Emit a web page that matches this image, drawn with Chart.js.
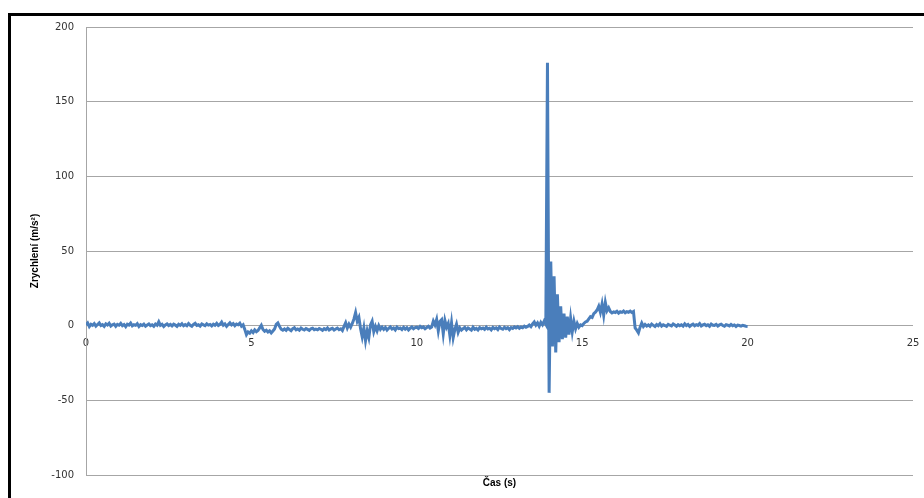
<!DOCTYPE html>
<html>
<head>
<meta charset="utf-8">
<script src="https://cdn.jsdelivr.net/npm/chart.js@4"></script>
<style>
  body { margin: 0; background: #fff; overflow: hidden; }
  #wrap { position: relative; width: 924px; height: 498px; }
  #frame { position: absolute; left: 8px; top: 13px; width: 1000px; height: 1000px;
           border: 3px solid #000; pointer-events: none; }
</style>
</head>
<body>
<div id="wrap">
  <canvas id="chart" width="924" height="498"></canvas>
  <div id="frame"></div>
</div>
<script>
// sampling step of the recorded signal (s)
const sampleStep = 0.05;

// acceleration values, one row per second (20 samples each), last one at 20.00 s
const accel = [
  0.5, 1.8, -0.6, 0.9, 0.2, 1.4, -0.3, 0.8, 1.9, 0.1, 0.7, -0.5, 1.2, 0.4, 1.6, -0.2, 0.6, 1.1, -0.4, 0.9,
  0.3, 1.5, 0.0, 0.8, -0.7, 1.0, 0.4, 1.7, -0.1, 0.6, 0.2, 1.3, -0.5, 0.7, 0.1, 1.0, -0.3, 0.5, 1.2, 0.0,
  0.6, -0.4, 1.1, 0.3, 2.6, 0.2, 0.9, -0.6, 0.5, 1.2, 0.1, 0.8, -0.2, 1.0, 0.4, -0.5, 0.9, 0.2, 1.3, -0.1,
  0.7, 0.0, 1.4, 0.3, -0.4, 0.9, 1.6, 0.2, 0.6, -0.3, 1.1, 0.5, 0.0, 1.3, 0.4, 0.8, -0.2, 1.0, 0.3, 1.5,
  0.1, 0.9, 2.4, 0.3, 1.2, -0.4, 0.8, 1.9, 0.5, 1.4, 0.0, 1.1, 0.6, 1.7, -0.3, 0.6, -2.5, -6.0, -4.2, -5.0,
  -3.5, -4.6, -2.8, -4.0, -3.2, -1.5, 0.2, -2.6, -3.8, -3.0, -4.2, -3.4, -4.8, -3.6, -2.2, 0.8, 1.8, -0.5, -2.4, -3.0,
  -2.2, -3.1, -1.8, -2.6, -3.4, -2.0, -1.4, -2.8, -2.2, -3.0, -1.6, -2.4, -2.9, -1.9, -2.5, -3.2, -2.1, -1.7, -2.7, -2.3,
  -2.8, -1.9, -2.4, -3.1, -2.0, -2.6, -1.5, -2.9, -2.2, -1.8, -3.0, -2.3, -1.6, -2.7, -2.1, -3.3, -0.5, 2.0, -1.5, 1.0,
  -1.0, 1.5, 4.5, 8.8, 3.0, 5.5, -2.0, -7.5, -1.5, -10.0, -3.5, -8.0, 0.5, 3.0, -4.0, -0.5, -3.5, 0.0, -2.5, -1.0,
  -2.5, -1.2, -3.0, -1.8, -0.8, -2.2, -1.5, -2.8, -1.0, -2.0, -1.6, -2.6, -1.1, -2.3, -1.4, -2.9, -1.7, -0.9, -2.1, -1.3,
  -1.0, -1.8, -0.5, -1.4, -0.8, -2.0, -1.2, -0.4, -1.6, -0.9, 3.0, 0.5, 4.2, -3.5, 2.8, 4.0, -5.5, 3.5, -1.0, 1.5,
  -6.5, 2.0, -8.0, -2.5, 1.0, -4.5, -1.5, -3.0, -2.0, -1.2, -2.8, -1.5, -2.2, -3.0, -1.0, -2.4, -1.8, -2.9, -1.3, -2.1,
  -1.6, -2.5, -1.0, -2.2, -1.7, -2.8, -1.2, -2.0, -1.5, -2.6, -0.9, -1.9, -2.4, -1.1, -2.0, -1.4, -2.7, -1.3, -1.8, -0.8,
  -1.5, -0.7, -1.8, -0.9, -1.4, -0.3, -1.1, -0.5, 0.4, -0.6, 1.2, 2.5, 0.3, 1.8, -0.4, 2.2, 0.6, 3.0, 1.0, 176,
  -45, 43, -14, 33, -18, 21, -11, 13, -9, 8, -8, 6, -6, 5, -4, 3, -2, 1.5, -1.0, 0.5,
  0.0, 1.5, 2.5, 3.0, 4.5, 6.0, 5.5, 8.0, 9.0, 10.5, 13.0, 9.0, 14.5, 7.0, 15.5, 10.0, 12.0, 9.5, 8.5, 9.2,
  8.8, 9.6, 8.4, 9.3, 8.9, 9.8, 8.6, 9.4, 9.0, 9.7, 8.8, 9.5, -1.5, -3.0, -4.8, -1.0, 1.8, -0.5, 0.8, -0.3,
  0.5, -0.4, 1.0, 0.2, -0.6, 0.8, 0.0, 1.3, -0.3, 0.6, 0.1, -0.5, 0.9, 0.3, -0.2, 1.1, 0.4, -0.4, 0.7, 0.0,
  0.6, -0.3, 1.2, 0.1, 0.8, -0.5, 0.4, 1.0, -0.1, 0.7, 0.2, 1.4, -0.2, 0.5, 0.9, 0.0, 0.6, -0.4, 1.1, 0.3,
  0.2, 0.9, -0.3, 0.5, 1.0, 0.1, -0.4, 0.7, 0.3, -0.2, 0.8, 0.0, 0.5, -0.5, 0.4, 0.1, -0.3, 0.2, -0.1, -0.4,
  -0.5
];

const xTicks = [0, 5, 10, 15, 20, 25];
const yTicks = [-100, -50, 0, 50, 100, 150, 200];

const points = accel.map((v, i) => ({ x: +(i * sampleStep).toFixed(2), y: v }));

const tickFont = { family: "DejaVu Sans", size: 10 };
const titleFont = { family: "Liberation Sans", size: 10, weight: "bold" };
const gridColor = "#a6a6a6";

new Chart(document.getElementById("chart"), {
    type: "scatter",
    data: {
        datasets: [{
            data: points,
            showLine: true,
            borderColor: "#4a7ebb",
            borderWidth: 3,
            pointRadius: 0,
            tension: 0
        }]
    },
    options: {
        responsive: false,
        animation: false,
        layout: { padding: { top: 27, right: 11, bottom: 3, left: 0 } },
        plugins: {
            legend: { display: false },
            tooltip: { enabled: false }
        },
        scales: {
            x: {
                type: "linear",
                position: { y: 0 },
                min: 0,
                max: 25,
                afterBuildTicks: s => { s.ticks = xTicks.map(v => ({ value: v })); },
                afterFit: s => { s.paddingLeft = 0; s.paddingRight = 0; },
                grid: { display: false, drawTicks: false },
                border: { display: false },
                ticks: { color: "#333", font: tickFont, padding: 12, maxRotation: 0 }
            },
            x2: {
                type: "linear",
                position: "bottom",
                min: 0,
                max: 1,
                afterFit: s => { s.paddingLeft = 0; s.paddingRight = 0; },
                grid: { display: false, drawTicks: false },
                border: { display: false },
                ticks: { display: false },
                title: { display: true, text: "Čas (s)", color: "#000", font: titleFont,
                         padding: { top: 2, bottom: 6 } }
            },
            y: {
                min: -100,
                max: 200,
                afterBuildTicks: s => { s.ticks = yTicks.map(v => ({ value: v })); },
                afterFit: s => { s.width = 86; },
                grid: { color: gridColor, lineWidth: 1, drawTicks: false },
                border: { display: true, color: gridColor, width: 1 },
                ticks: { color: "#333", font: tickFont, padding: 12 },
                title: { display: true, text: "Zrychlení (m/s²)", color: "#000", font: titleFont,
                         padding: { top: 29, bottom: 4 } }
            }
        }
    }
});
</script>
</body>
</html>
